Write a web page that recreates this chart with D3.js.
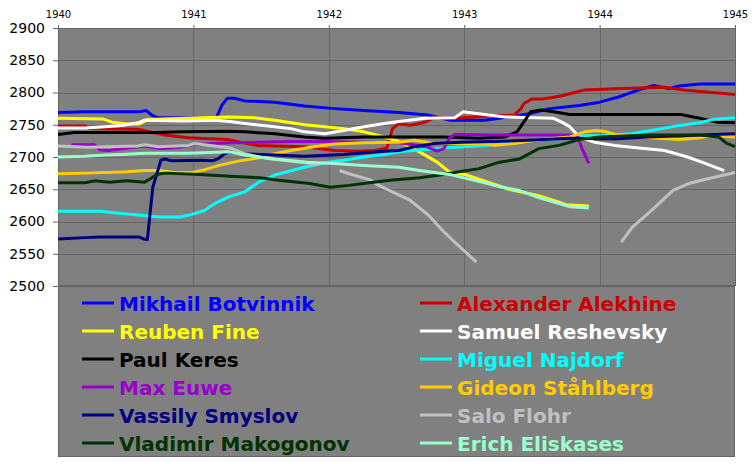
<!DOCTYPE html>
<html><head><meta charset="utf-8">
<script src="https://cdn.jsdelivr.net/npm/d3@7/dist/d3.min.js"></script>
<style>
html,body{margin:0;padding:0;background:#fff;}
svg{display:block;}
</style></head>
<body>
<svg id="chart" width="756" height="464"></svg>
<script>
// ---------- data ----------
const yearTicks = [1940, 1941, 1942, 1943, 1944, 1945];
const ratingTicks = [2500, 2550, 2600, 2650, 2700, 2750, 2800, 2850, 2900];

const players = ["Mikhail Botvinnik", "Alexander Alekhine", "Reuben Fine", "Samuel Reshevsky",
  "Paul Keres", "Miguel Najdorf", "Max Euwe", "Gideon Ståhlberg",
  "Vassily Smyslov", "Salo Flohr", "Vladimir Makogonov", "Erich Eliskases"];
const colors = ["#0000FF", "#CC0000", "#FFFF00", "#FFFFFF", "#000000", "#00FFFF",
  "#9900CC", "#FFCC00", "#000080", "#C0C0C0", "#003300", "#99FFCC"];

// [year, rating]
const botvinnik = [[1940.00,2769],[1940.20,2770],[1940.60,2770],[1940.65,2772],[1940.70,2764],[1940.74,2761],[1941.17,2761],[1941.21,2780],[1941.25,2791],[1941.30,2791],[1941.38,2787],[1941.60,2785],[1941.82,2779],[1942.04,2775],[1942.26,2772],[1942.52,2769],[1942.73,2765],[1942.90,2757],[1943.15,2757],[1943.26,2760],[1943.48,2767],[1943.63,2775],[1943.85,2780],[1944.00,2785],[1944.14,2793],[1944.29,2804],[1944.40,2811],[1944.51,2806],[1944.59,2810],[1944.74,2813],[1945.00,2813]];
const alekhine = [[1940.00,2748],[1940.20,2748],[1940.23,2744],[1940.59,2743],[1940.79,2734],[1940.96,2730],[1941.25,2727],[1941.47,2718],[1941.82,2716],[1942.04,2710],[1942.21,2709],[1942.34,2710],[1942.43,2714],[1942.47,2744],[1942.52,2752],[1942.60,2749],[1942.71,2754],[1942.78,2761],[1942.93,2760],[1943.07,2762],[1943.22,2764],[1943.37,2765],[1943.42,2775],[1943.44,2783],[1943.50,2790],[1943.57,2790],[1943.64,2792],[1943.72,2795],[1943.78,2798],[1943.89,2804],[1944.11,2806],[1944.48,2808],[1944.62,2804],[1944.77,2801],[1945.00,2797]];
const fine = [[1940.00,2760],[1940.33,2759],[1940.40,2754],[1940.51,2751],[1940.60,2751],[1940.66,2758],[1941.05,2761],[1941.27,2762],[1941.45,2761],[1941.60,2757],[1941.82,2750],[1941.97,2747],[1942.11,2744],[1942.26,2739],[1942.41,2731],[1942.52,2724],[1942.67,2708],[1942.80,2692],[1942.89,2677],[1943.02,2672],[1943.13,2664],[1943.33,2650],[1943.55,2640],[1943.70,2630],[1943.75,2626],[1943.92,2624]];
const reshevsky = [[1940.00,2745],[1940.20,2745],[1940.35,2747],[1940.47,2749],[1940.59,2753],[1940.64,2757],[1940.93,2756],[1941.16,2757],[1941.27,2755],[1941.38,2752],[1941.60,2747],[1941.72,2744],[1941.82,2739],[1941.97,2736],[1942.11,2741],[1942.26,2747],[1942.41,2752],[1942.52,2755],[1942.71,2760],[1942.93,2761],[1942.99,2770],[1943.15,2766],[1943.30,2762],[1943.52,2761],[1943.66,2760],[1943.72,2754],[1943.78,2747],[1943.85,2731],[1943.96,2723],[1944.11,2718],[1944.33,2713],[1944.48,2710],[1944.65,2700],[1944.77,2691],[1944.92,2679]];
const keres = [[1940.00,2735],[1940.12,2738],[1940.71,2738],[1940.93,2739],[1941.25,2740],[1941.38,2739],[1941.60,2736],[1941.82,2731],[1941.97,2729],[1942.26,2731],[1942.52,2731],[1942.85,2731],[1943.10,2729],[1943.30,2731],[1943.39,2739],[1943.44,2754],[1943.49,2770],[1943.57,2773],[1943.66,2770],[1943.78,2766],[1943.89,2766],[1944.60,2766],[1944.72,2761],[1944.87,2754],[1945.00,2753]];
const najdorf = [[1940.00,2616],[1940.31,2616],[1940.49,2612],[1940.75,2607],[1940.90,2607],[1940.99,2611],[1941.08,2617],[1941.16,2628],[1941.27,2639],[1941.38,2646],[1941.49,2662],[1941.60,2672],[1941.82,2684],[1941.97,2691],[1942.11,2695],[1942.26,2700],[1942.41,2704],[1942.52,2708],[1942.63,2710],[1942.85,2714],[1943.15,2718],[1943.37,2723],[1943.59,2727],[1943.78,2729],[1943.89,2733],[1944.03,2733],[1944.23,2736],[1944.38,2741],[1944.59,2749],[1944.74,2753],[1944.83,2758],[1945.00,2761]];
const euwe = [[1940.10,2719],[1940.27,2719],[1940.31,2711],[1940.38,2710],[1940.51,2714],[1940.64,2717],[1940.75,2713],[1940.90,2715],[1940.99,2719],[1941.14,2721],[1941.29,2722],[1941.49,2723],[1941.72,2724],[1941.97,2724],[1942.21,2723],[1942.52,2722],[1942.72,2716],[1942.80,2709],[1942.85,2713],[1942.89,2729],[1942.93,2735],[1943.22,2734],[1943.78,2734],[1943.84,2731],[1943.87,2713],[1943.90,2700],[1943.92,2690]];
const stahlberg = [[1940.00,2674],[1940.20,2675],[1940.51,2677],[1940.64,2679],[1940.75,2679],[1940.86,2676],[1940.99,2676],[1941.08,2680],[1941.19,2687],[1941.34,2694],[1941.49,2699],[1941.60,2705],[1941.72,2710],[1941.89,2716],[1942.04,2720],[1942.26,2722],[1942.52,2723],[1942.63,2726],[1942.78,2721],[1943.15,2721],[1943.22,2718],[1943.37,2721],[1943.52,2726],[1943.78,2731],[1943.89,2739],[1943.97,2741],[1944.03,2740],[1944.12,2735],[1944.38,2730],[1944.59,2727],[1944.74,2730],[1944.82,2733],[1945.00,2731]];
const smyslov = [[1940.00,2573],[1940.20,2575],[1940.31,2576],[1940.60,2576],[1940.63,2573],[1940.66,2572],[1940.70,2653],[1940.76,2695],[1940.79,2697],[1940.84,2694],[1941.05,2695],[1941.14,2694],[1941.18,2697],[1941.23,2705],[1941.27,2708],[1941.38,2705],[1941.60,2703],[1941.82,2701],[1942.11,2704],[1942.41,2709],[1942.52,2710],[1942.63,2716],[1942.78,2721],[1942.98,2723],[1943.22,2724],[1943.47,2726],[1943.78,2729],[1944.11,2728],[1944.35,2731],[1944.74,2734],[1945.00,2736]];
const flohr = [[1940.00,2717],[1940.22,2715],[1940.59,2717],[1940.64,2719],[1940.74,2716],[1940.96,2718],[1941.01,2721],[1941.08,2719],[1941.27,2714],[1941.38,2705],[1941.53,2698],[1941.79,2692],[1941.93,2689],[1942.00,null],
  [1942.08,2679],[1942.15,2674],[1942.30,2665],[1942.37,2656],[1942.52,2641],[1942.60,2633],[1942.74,2609],[1942.84,2586],[1942.94,2566],[1943.09,2537],[1943.50,null],
  [1944.16,2568],[1944.24,2591],[1944.34,2609],[1944.44,2628],[1944.54,2648],[1944.66,2659],[1944.79,2666],[1945.00,2676]];
const makogonov = [[1940.00,2660],[1940.20,2660],[1940.27,2663],[1940.38,2661],[1940.51,2663],[1940.64,2661],[1940.68,2666],[1940.73,2673],[1940.79,2675],[1941.05,2673],[1941.27,2670],[1941.49,2668],[1941.63,2664],[1941.86,2659],[1942.01,2653],[1942.15,2656],[1942.30,2660],[1942.45,2664],[1942.67,2668],[1942.82,2672],[1942.96,2677],[1943.11,2682],[1943.26,2692],[1943.41,2697],[1943.55,2713],[1943.70,2718],[1943.85,2727],[1944.00,2731],[1944.37,2734],[1944.74,2734],[1944.88,2731],[1944.94,2721],[1945.00,2716]];
const eliskases = [[1940.00,2700],[1940.20,2701],[1940.35,2703],[1940.47,2704],[1940.64,2706],[1940.96,2706],[1941.27,2708],[1941.38,2703],[1941.60,2697],[1941.84,2692],[1942.04,2690],[1942.26,2687],[1942.52,2684],[1942.67,2679],[1942.89,2673],[1943.13,2661],[1943.26,2654],[1943.41,2648],[1943.55,2637],[1943.70,2628],[1943.78,2623],[1943.92,2621]];

const seriesData = [botvinnik, alekhine, fine, reshevsky, keres, najdorf, euwe, stahlberg, smyslov, flohr, makogonov, eliskases];

// ---------- drawing ----------
const svg = d3.select("#chart");
const L = 58, R = 735, T = 28, B = 286, LB = 457;
const x = d3.scaleLinear().domain([1940, 1945]).range([L, R]);
const y = d3.scaleLinear().domain([2500, 2900]).range([B, T]);
const gridColor = "#666666";

// plot background
svg.append("rect").attr("x", L).attr("y", T).attr("width", R - L).attr("height", LB - T)
  .attr("fill", "#808080");

// gridlines
svg.append("g").selectAll("line.h").data(ratingTicks).join("line")
  .attr("x1", L).attr("x2", R).attr("y1", d => Math.round(y(d)) + 0.5).attr("y2", d => Math.round(y(d)) + 0.5)
  .attr("stroke", gridColor).attr("stroke-width", 1);
svg.append("g").selectAll("line.v").data(yearTicks).join("line")
  .attr("y1", T).attr("y2", B).attr("x1", d => Math.round(x(d)) + 0.5).attr("x2", d => Math.round(x(d)) + 0.5)
  .attr("stroke", gridColor).attr("stroke-width", 1);

// legend box border
svg.append("rect").attr("x", L + 0.5).attr("y", B + 0.5).attr("width", R - L - 1).attr("height", LB - B - 1)
  .attr("fill", "none").attr("stroke", gridColor).attr("stroke-width", 1);
svg.append("line").attr("x1", L).attr("x2", R).attr("y1", B).attr("y2", B)
  .attr("stroke", gridColor).attr("stroke-width", 2);

// axes
const yAxis = d3.axisLeft(y).tickValues(ratingTicks).tickSize(5).tickPadding(8).tickFormat(d3.format("d"));
const gy = svg.append("g").attr("transform", `translate(${L},0)`).call(yAxis);
gy.select(".domain").remove();
gy.selectAll(".tick line").attr("stroke", gridColor);
gy.selectAll(".tick text").attr("fill", "#000").style("font-family", "DejaVu Sans, Verdana, sans-serif").style("font-size", "14px");

const xAxis = d3.axisTop(x).tickValues(yearTicks).tickSize(3).tickPadding(7).tickFormat(d3.format("d"));
const gx = svg.append("g").attr("transform", `translate(0,${T})`).call(xAxis);
gx.select(".domain").remove();
gx.selectAll(".tick line").attr("stroke", gridColor);
gx.selectAll(".tick text").attr("fill", "#000").style("font-family", "DejaVu Sans, Verdana, sans-serif").style("font-size", "10px");

// series lines (legend row-major order)
const line = d3.line().defined(d => d[1] != null).x(d => x(d[0])).y(d => y(d[1]));
const lines = svg.append("g");
seriesData.forEach((data, i) => {
  lines.append("path").datum(data).attr("d", line)
    .attr("fill", "none").attr("stroke", colors[i]).attr("stroke-width", 3)
    .attr("stroke-linejoin", "round").attr("stroke-linecap", "butt");
});

// legend
const leg = svg.append("g");
players.forEach((name, i) => {
  const col = i % 2, row = Math.floor(i / 2);
  const lx = col === 0 ? 82 : 420;
  const ly = 303 + row * 28;
  leg.append("line").attr("x1", lx).attr("x2", lx + 32).attr("y1", ly).attr("y2", ly)
    .attr("stroke", colors[i]).attr("stroke-width", 3);
  leg.append("text").attr("x", lx + 37).attr("y", ly + 7.5)
    .attr("fill", colors[i])
    .style("font-family", "DejaVu Sans, Verdana, sans-serif").style("font-weight", "bold").style("font-size", "20px")
    .text(name);
});
</script>
</body></html>
